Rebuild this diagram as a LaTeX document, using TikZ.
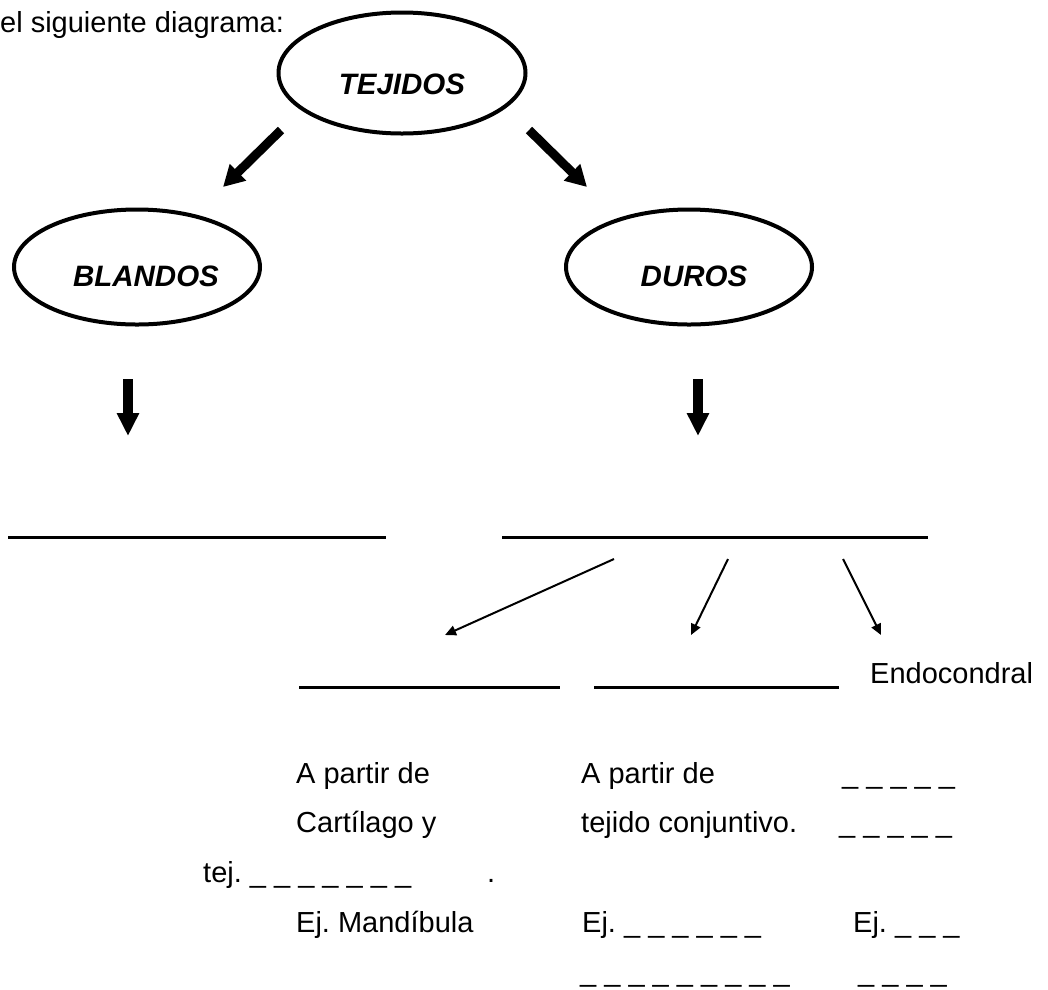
\documentclass[tikz,border=0pt]{standalone}
\usepackage{fontspec}
\setmainfont{Liberation Sans}
\usetikzlibrary{arrows.meta,shapes.geometric}
\begin{document}
\frenchspacing
\begin{tikzpicture}[x=1pt,y=-1pt,
  txt/.style={anchor=base west, inner sep=0pt, font=\fontsize{29}{35}\selectfont\frenchspacing},
  ttl/.style={anchor=base, inner sep=0pt, font=\fontsize{29.5}{35}\selectfont\bfseries\itshape},
  oval/.style={draw, ellipse, line width=4pt, inner sep=0pt},
  bigarrow/.style={line width=9pt, -{Triangle[width=22pt,length=21pt]}},
  vbigarrow/.style={line width=10pt, -{Triangle[width=21pt,length=23pt]}},
  thinarrow/.style={line width=2pt, -{Triangle[width=10pt,length=11pt]}},
  blank/.style={line width=3pt},
]
\useasboundingbox (0,0) rectangle (1048,989);

\node[txt] (intro) at (0,32) {el siguiente diagrama:};

% ovals
\node[oval, minimum width=247pt, minimum height=121pt] (tej) at (402,73) {};
\node[ttl] (tejt) at (402,94) {TEJIDOS};
\node[oval, minimum width=246pt, minimum height=115pt] (bla) at (137,267) {};
\node[ttl] (blat) at (146,286) {BLANDOS};
\node[oval, minimum width=246pt, minimum height=115pt] (dur) at (689,267) {};
\node[ttl] (durt) at (694,286) {DUROS};

% thick arrows
\coordinate (a1s) at (281,130); \coordinate (a1e) at (223,187);
\coordinate (a2s) at (529,130); \coordinate (a2e) at (587,187);
\coordinate (a3s) at (128,379); \coordinate (a3e) at (128,436);
\coordinate (a4s) at (698,379); \coordinate (a4e) at (698,436);
\draw[bigarrow] (a1s) -- (a1e);
\draw[bigarrow] (a2s) -- (a2e);
\draw[vbigarrow] (a3s) -- (a3e);
\draw[vbigarrow] (a4s) -- (a4e);

% blanks row 1
\coordinate (b1l) at (8,537); \coordinate (b1r) at (386,537);
\coordinate (b2l) at (502,537); \coordinate (b2r) at (928,537);
\draw[blank] (b1l) -- (b1r);
\draw[blank] (b2l) -- (b2r);

% thin arrows
\coordinate (t1s) at (614,559); \coordinate (t1e) at (445,635);
\coordinate (t2s) at (728,559); \coordinate (t2e) at (691,635);
\coordinate (t3s) at (843,559); \coordinate (t3e) at (881,635);
\draw[thinarrow] (t1s) -- (t1e);
\draw[thinarrow] (t2s) -- (t2e);
\draw[thinarrow] (t3s) -- (t3e);

% blanks row 2
\coordinate (b3l) at (299,687); \coordinate (b3r) at (560,687);
\coordinate (b4l) at (594,687); \coordinate (b4r) at (839,687);
\draw[blank] (b3l) -- (b3r);
\draw[blank] (b4l) -- (b4r);
\node[txt] (endo) at (870,683) {Endocondral};

% text rows
\node[txt] (c1r1) at (296,783) {A partir de};
\node[txt] (c2r1) at (581,783) {A partir de};
\node[txt] (c3r1) at (842,783) {\_ \_ \_ \_ \_};
\node[txt] (c1r2) at (296,832) {Cartílago y};
\node[txt] (c2r2) at (581,832) {tejido conjuntivo.};
\node[txt] (c3r2) at (839,832) {\_ \_ \_ \_ \_};
\node[txt] (c0r3) at (203,882) {tej. \_ \_ \_ \_ \_ \_ \_};
\node[txt] (dot) at (487,882) {.};
\node[txt] (c1r4) at (296,932) {Ej. Mandíbula};
\node[txt] (c2r4) at (582,932) {Ej. \_ \_ \_ \_ \_ \_};
\node[txt] (c3r4) at (853,932) {Ej. \_ \_ \_};
\node[txt] (c2r5) at (580,981) {\_ \_ \_ \_ \_ \_ \_ \_ \_};
\node[txt] (c3r5) at (858,981) {\_ \_ \_ \_};
\end{tikzpicture}
\end{document}
